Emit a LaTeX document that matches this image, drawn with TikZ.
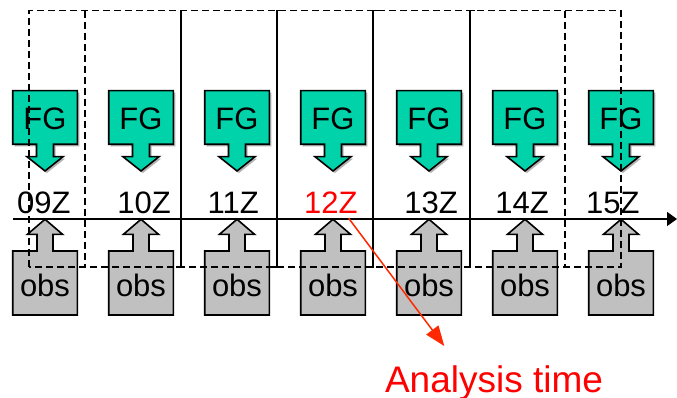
\documentclass[tikz,border=0pt]{standalone}
\usepackage{fontspec}
\setmainfont{Liberation Sans}
\usetikzlibrary{arrows.meta}
\definecolor{fggreen}{RGB}{0,210,170}
\definecolor{obsgray}{RGB}{192,192,192}
\definecolor{arrowred}{RGB}{255,40,0}
\begin{document}
\begin{tikzpicture}[x=1pt,y=-1pt,
  outline/.style={draw=black,line width=1.6pt,line join=miter},
  fgshape/.style={outline,fill=fggreen},
  obsshape/.style={outline,fill=obsgray},
  shadowshape/.style={fill=black!30,draw=none},
  bigtext/.style={font=\fontsize{31}{31}\selectfont,inner sep=0pt,anchor=base},
  winsolid/.style={line width=1.6pt},
  windash/.style={line width=1.6pt,dash pattern=on 7pt off 4pt},
  redarrow/.style={draw=arrowred,line width=1.5pt,-{Triangle[length=20pt,width=15pt]}}
]
\useasboundingbox (0,0) rectangle (677,398);

% FG and obs shapes
\foreach \cx in {45,141,237,333,429,525,621}{
  \fill[shadowshape,shift={(2,2)}] (\cx-32.3,90.7) -- (\cx+32.3,90.7) -- (\cx+32.3,144.3) -- (\cx+8.5,144.3) -- (\cx+8.5,156.7) -- (\cx+18,156.7) -- (\cx,171) -- (\cx-18,156.7) -- (\cx-8.5,156.7) -- (\cx-8.5,144.3) -- (\cx-32.3,144.3) -- cycle;
  \path[fgshape] (\cx-32.3,90.7) -- (\cx+32.3,90.7) -- (\cx+32.3,144.3) -- (\cx+8.5,144.3) -- (\cx+8.5,156.7) -- (\cx+18,156.7) -- (\cx,171) -- (\cx-18,156.7) -- (\cx-8.5,156.7) -- (\cx-8.5,144.3) -- (\cx-32.3,144.3) -- cycle;
  \path[obsshape] (\cx-32.3,315) -- (\cx-32.3,251) -- (\cx-8,251) -- (\cx-8,234.3) -- (\cx-17.5,234.3) -- (\cx,219.3) -- (\cx+17.5,234.3) -- (\cx+8,234.3) -- (\cx+8,251) -- (\cx+32.3,251) -- (\cx+32.3,315) -- cycle;
}

% texts in shapes
\foreach \cx/\n in {45/1,141/2,237/3,333/4,429/5,525/6,621/7}{
  \node[bigtext] (fg\n) at (\cx,130) {FG};
  \node[bigtext] (obs\n) at (\cx,296) {obs};
}

% time labels
\node[bigtext] (l09) at (43.8,213.3) {09Z};
\node[bigtext] (l10) at (144,213.3) {10Z};
\node[bigtext] (l11) at (233.3,213.3) {11Z};
\node[bigtext,text=red] (l12) at (330.8,213.3) {12Z};
\node[bigtext] (l13) at (431,213.3) {13Z};
\node[bigtext] (l14) at (522,213.3) {14Z};
\node[bigtext] (l15) at (612.8,213.3) {15Z};

% time axis
\coordinate (axs) at (13.3,219);
\coordinate (axe) at (677,219);
\draw[line width=1.6pt,-{Triangle[length=10pt,width=14pt]}] (axs) -- (axe);

% windows
\draw[windash] (29,266.7) -- (29,10.7) -- (621,10.7) -- (621,266.7) -- cycle;
\draw[windash] (85,10.7) -- (85,266.7);
\draw[windash] (565,10.7) -- (565,266.7);
\foreach \x in {181,277,373,470}{
  \draw[winsolid] (\x+5,10.7) -- (\x,10.7) -- (\x,266.7) -- (\x-5,266.7);
}

% analysis time
\node[font=\fontsize{37}{37}\selectfont,text=red,inner sep=0pt,anchor=base] (at) at (494,392) {Analysis time};
\coordinate (rs) at (348.7,218.3);
\coordinate (re) at (444.3,346);
\draw[redarrow] (rs) -- (re);
\end{tikzpicture}
\end{document}
